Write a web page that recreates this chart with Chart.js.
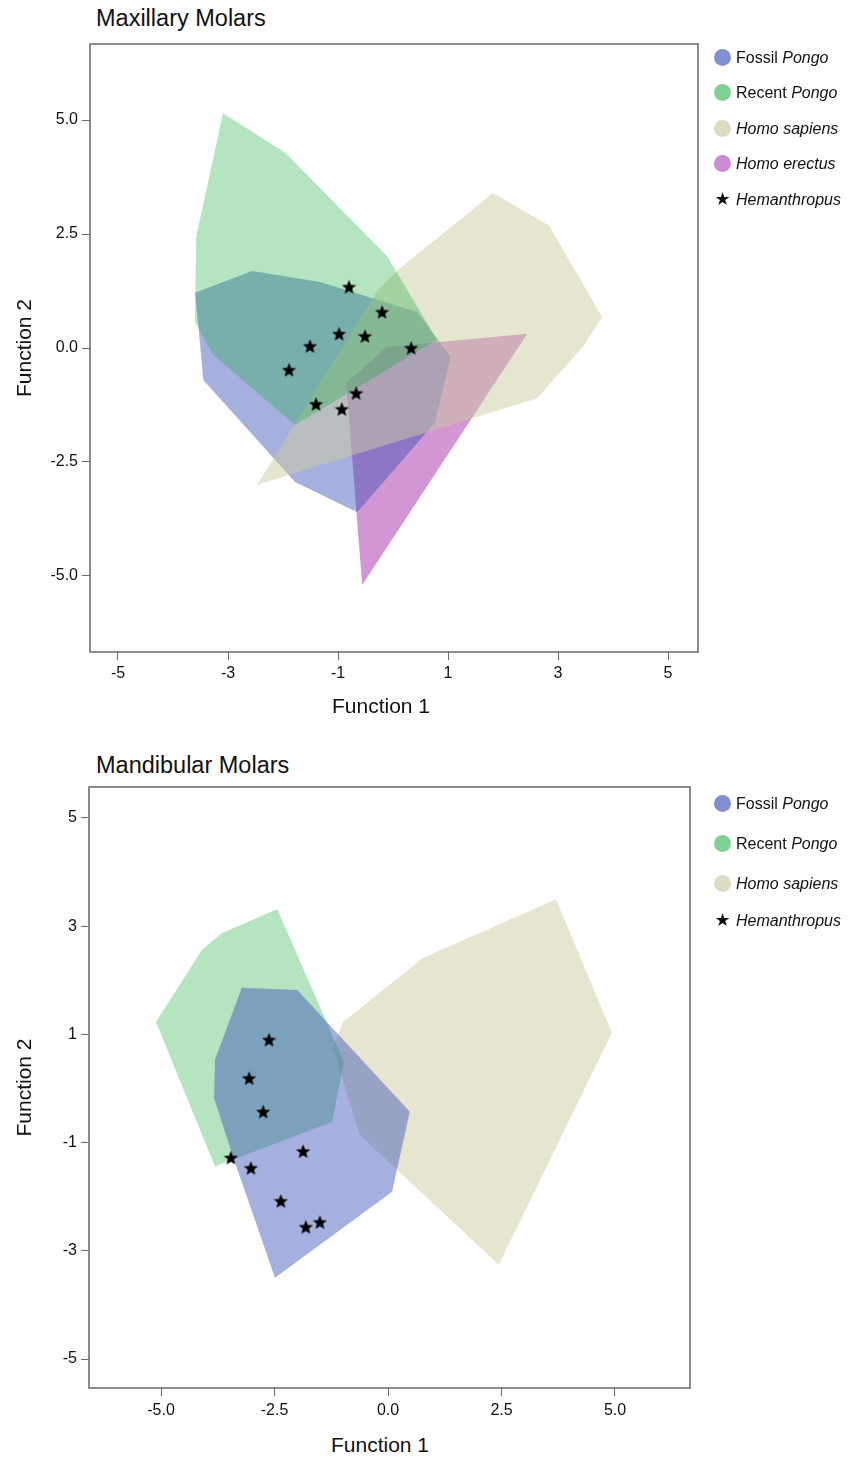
<!DOCTYPE html>
<html>
<head>
<meta charset="utf-8">
<title>Maxillary and Mandibular Molars</title>
<script src="https://cdn.jsdelivr.net/npm/chart.js@4.4.0/dist/chart.umd.min.js"></script>
<style>
  body { margin: 0; width: 848px; height: 1458px; position: relative; background: #fff; overflow: hidden;
         font-family: "Liberation Sans", Arial, Helvetica, sans-serif; color: #111; }
  canvas { position: absolute; left: 0; }
  .title { position: absolute; left: 96px; font-size: 23.5px; line-height: 28px; white-space: nowrap; }
  .xtitle { position: absolute; width: 200px; text-align: center; font-size: 21px; line-height: 26px; }
  .legend div { position: absolute; left: 714px; height: 20px; line-height: 20px; font-size: 16px; white-space: nowrap; }
  .dot { display: inline-block; width: 17px; height: 17px; border-radius: 50%; vertical-align: -3px; margin-right: 5px; }
  .star { display: inline-block; width: 17px; margin-right: 5px; text-align: center; font-size: 18px; font-family: "DejaVu Sans"; }
</style>
</head>
<body>

<div class="title" style="top:4px">Maxillary Molars</div>
<canvas id="maxChart" width="848" height="700" style="top:0"></canvas>
<div class="xtitle" style="left:281px; top:693px">Function 1</div>
<div class="legend">
  <div style="top:48px"><span class="dot" style="background:#8290d2"></span>Fossil <i>Pongo</i></div>
  <div style="top:83px"><span class="dot" style="background:#7fd094"></span>Recent <i>Pongo</i></div>
  <div style="top:119px"><span class="dot" style="background:#dcdcc2"></span><i>Homo sapiens</i></div>
  <div style="top:154px"><span class="dot" style="background:#cc8ad2"></span><i>Homo erectus</i></div>
  <div style="top:189px"><span class="star">★</span><i>Hemanthropus</i></div>
</div>

<div class="title" style="top:751px">Mandibular Molars</div>
<canvas id="manChart" width="848" height="690" style="top:740px"></canvas>
<div class="xtitle" style="left:280px; top:1432px">Function 1</div>
<div class="legend">
  <div style="top:794px"><span class="dot" style="background:#8290d2"></span>Fossil <i>Pongo</i></div>
  <div style="top:834px"><span class="dot" style="background:#7fd094"></span>Recent <i>Pongo</i></div>
  <div style="top:874px"><span class="dot" style="background:#dcdcc2"></span><i>Homo sapiens</i></div>
  <div style="top:910px"><span class="star">★</span><i>Hemanthropus</i></div>
</div>

<script>
// ---- Maxillary molars (top plot) ----
const maxXTicks = [-5, -3, -1, 1, 3, 5];
const maxXLabels = ['-5', '-3', '-1', '1', '3', '5'];
const maxYTicks = [5, 2.5, 0, -2.5, -5];
const maxYLabels = ['5.0', '2.5', '0.0', '-2.5', '-5.0'];

// hull vertices [function 1, function 2]
const maxFossilPongo = [[-3.60, 1.21], [-2.56, 1.69], [-1.33, 1.45], [0.44, 0.79], [1.05, -0.20],
  [0.76, -1.64], [-0.65, -3.60], [-1.78, -2.94], [-3.45, -0.70], [-3.53, 0.39]];
const maxRecentPongo = [[-3.09, 5.15], [-1.96, 4.28], [-0.11, 2.02], [0.80, 0.18], [-1.78, -1.69],
  [-3.27, -0.15], [-3.60, 0.57], [-3.58, 2.43]];
const maxHomoSapiens = [[-2.47, -3.00], [-0.27, 1.27], [0.09, 1.71], [1.82, 3.40], [2.84, 2.68],
  [3.80, 0.68], [3.45, 0.02], [2.62, -1.10]];
const maxHomoErectus = [[2.44, 0.31], [-0.11, 0.02], [-0.85, -0.77], [-0.56, -5.20]];
const maxHemanthropus = [[-0.80, 1.34], [-0.20, 0.79], [-0.98, 0.31], [-0.51, 0.26], [-1.51, 0.04],
  [0.33, 0.00], [-1.89, -0.48], [-0.67, -0.99], [-1.40, -1.23], [-0.93, -1.34]];

// ---- Mandibular molars (bottom plot) ----
const manXTicks = [-5, -2.5, 0, 2.5, 5];
const manXLabels = ['-5.0', '-2.5', '0.0', '2.5', '5.0'];
const manYTicks = [5, 3, 1, -1, -3, -5];
const manYLabels = ['5', '3', '1', '-1', '-3', '-5'];

const manFossilPongo = [[-3.22, 1.86], [-2.00, 1.82], [0.48, -0.43], [0.09, -1.91], [-2.49, -3.50],
  [-3.41, -1.27], [-3.83, -0.18], [-3.81, 0.53]];
const manRecentPongo = [[-2.44, 3.32], [-0.97, 0.49], [-1.23, -0.62], [-3.81, -1.44], [-5.11, 1.23],
  [-4.10, 2.56], [-3.66, 2.87]];
const manHomoSapiens = [[3.70, 3.50], [4.93, 1.03], [2.44, -3.26], [-0.62, -0.86], [-1.21, 0.75],
  [-0.99, 1.23], [0.77, 2.41]];
const manHemanthropus = [[-2.62, 0.90], [-3.06, 0.19], [-2.75, -0.43], [-1.87, -1.16], [-3.46, -1.28],
  [-3.02, -1.47], [-2.36, -2.08], [-1.81, -2.56], [-1.50, -2.47]];

// translucent fills, tuned so the overlaps mix like the original
const fillColors = {
  fossil: 'rgba(58,80,184,0.45)',
  recent: 'rgba(27,173,64,0.33)',
  sapiens: 'rgba(203,203,161,0.5)',
  erectus: 'rgba(167,45,169,0.5)'
};

Chart.defaults.font.family = '"Liberation Sans", Arial, Helvetica, sans-serif';
Chart.defaults.color = '#111';

// filled black star used as point marker
function makeStar(size) {
  const c = document.createElement('canvas');
  c.width = c.height = size;
  const g = c.getContext('2d');
  g.beginPath();
  for (let i = 0; i < 10; i++) {
    const r = i % 2 ? size * 0.22 : size * 0.5;
    const a = -Math.PI / 2 + i * Math.PI / 5;
    g.lineTo(size / 2 + r * Math.cos(a), size * 0.54 + r * Math.sin(a));
  }
  g.closePath();
  g.fillStyle = '#000';
  g.fill();
  return c;
}
const starImg = makeStar(15);

const toPoints = pts => pts.map(p => ({ x: p[0], y: p[1] }));

function hull(label, pts, color, order) {
  return {
    type: 'line',
    label: label,
    order: order,
    data: toPoints(pts),
    showLine: true,
    fill: 'shape',
    backgroundColor: color,
    borderColor: 'rgba(0,0,0,0)',
    borderWidth: 0,
    pointRadius: 0,
    tension: 0
  };
}

function stars(pts) {
  return {
    type: 'scatter',
    label: 'Hemanthropus',
    order: 0,
    data: toPoints(pts),
    pointStyle: starImg,
    pointRadius: 7
  };
}

// box around the plot area
const framePlugin = {
  id: 'frame',
  afterDraw(chart) {
    const { ctx, chartArea: a } = chart;
    ctx.save();
    ctx.strokeStyle = '#666';
    ctx.lineWidth = 1.5;
    ctx.strokeRect(a.left, a.top, a.right - a.left, a.bottom - a.top);
    ctx.restore();
  }
};

function axis(min, max, ticks, labels, isX, size, pad, title) {
  return {
    type: 'linear',
    min: min,
    max: max,
    afterBuildTicks: s => { s.ticks = ticks.map(v => ({ value: v })); },
    afterFit: s => { if (isX) s.height = size; else s.width = size; },
    ticks: {
      autoSkip: false,
      maxRotation: 0,
      padding: pad,
      font: { size: 16 },
      color: '#111',
      callback: v => labels[ticks.indexOf(v)]
    },
    grid: { drawOnChartArea: false, drawTicks: true, tickLength: 8, color: '#666', lineWidth: 1 },
    border: { display: false },
    title: title ? { display: true, text: title, font: { size: 21 }, color: '#111', padding: { top: 13, bottom: 0 } } : { display: false }
  };
}

function baseOptions(padding, xAxis, yAxis) {
  return {
    responsive: false,
    animation: false,
    layout: { padding: padding },
    plugins: { legend: { display: false }, tooltip: { enabled: false } },
    scales: { x: xAxis, y: yAxis }
  };
}

new Chart(document.getElementById('maxChart'), {
  type: 'scatter',
  data: {
    datasets: [
      stars(maxHemanthropus),
      hull('Recent Pongo', maxRecentPongo, fillColors.recent, 1),
      hull('Homo sapiens', maxHomoSapiens, fillColors.sapiens, 2),
      hull('Fossil Pongo', maxFossilPongo, fillColors.fossil, 3),
      hull('Homo erectus', maxHomoErectus, fillColors.erectus, 4)
    ]
  },
  options: baseOptions(
    { top: 44, right: 150, left: 0, bottom: 0 },
    axis(-5.509, 5.545, maxXTicks, maxXLabels, true, 48, 4, null),
    axis(-6.667, 6.667, maxYTicks, maxYLabels, false, 90, 4, 'Function 2')
  ),
  plugins: [framePlugin]
});

new Chart(document.getElementById('manChart'), {
  type: 'scatter',
  data: {
    datasets: [
      stars(manHemanthropus),
      hull('Fossil Pongo', manFossilPongo, fillColors.fossil, 1),
      hull('Recent Pongo', manRecentPongo, fillColors.recent, 2),
      hull('Homo sapiens', manHomoSapiens, fillColors.sapiens, 3)
    ]
  },
  options: baseOptions(
    { top: 47, right: 158, left: 0, bottom: 0 },
    axis(-6.586, 6.652, manXTicks, manXLabels, true, 42, 5, null),
    axis(-5.536, 5.573, manYTicks, manYLabels, false, 89, 4, 'Function 2')
  ),
  plugins: [framePlugin]
});
</script>
</body>
</html>
